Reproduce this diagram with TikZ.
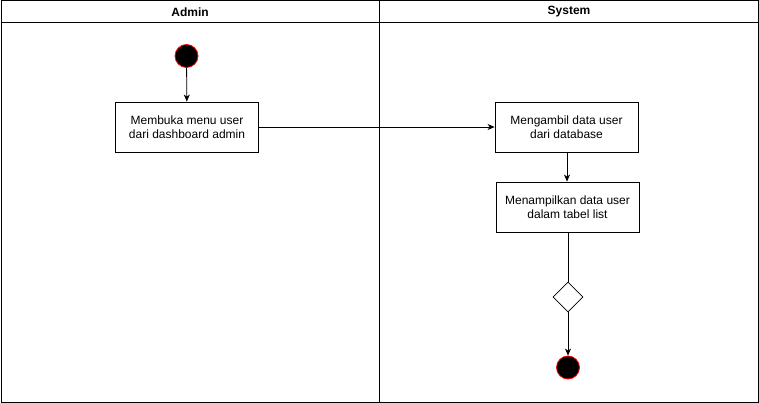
\documentclass[tikz,border=0pt]{standalone}
\usepackage{fontspec}
\setmainfont{Liberation Sans}
\usetikzlibrary{arrows.meta,shapes.geometric}
\begin{document}
\begin{tikzpicture}[x=1pt,y=-1pt,
  actbox/.style={draw,line width=0.8pt,minimum width=143pt,minimum height=50pt,align=center,font=\fontsize{12}{14}\selectfont,inner sep=0pt},
  startdot/.style={circle,fill=black,draw=red,line width=0.8pt,minimum size=23pt,inner sep=0pt},
  decision/.style={diamond,draw,line width=0.6pt,minimum width=30pt,minimum height=30pt,inner sep=0pt,aspect=1},
  flow/.style={line width=0.8pt,-{Stealth[length=7pt,width=6pt,inset=2pt]}},
  lane/.style={draw,line width=1pt},
  head/.style={font=\fontsize{12}{14}\selectfont\bfseries}]
\useasboundingbox (0,0) rectangle (759,403);
% swimlanes
\draw[lane] (1,1) rectangle (758,402);
\draw[lane] (1,23) -- (758,23);
\draw[lane] (379,1) -- (379,402);
\node[head] (hadmin) at (190,12) {Admin};
\node[head] (hsys) at (569,12) {System};
% nodes
\node[startdot] (start) at (186.5,56) {};
\node[actbox] (b1) at (187,127) {Membuka menu user\\dari dashboard admin};
\node[actbox] (b2) at (566.5,127) {Mengambil data user\\dari database};
\node[actbox] (b3) at (567.5,207) {Menampilkan data user\\dalam tabel list};
\node[decision] (d) at (568,297) {};
\node[startdot] (end) at (568,367.5) {};
% edges
\draw[flow] (start) -- (b1);
\draw[flow] (b1) -- (b2);
\draw[flow] (b2.south -| 567,0) -- (b3.north -| 567,0);
\draw[line width=0.8pt] (b3.south -| d) -- (d.north);
\draw[flow] (d) -- (end);
\end{tikzpicture}
\end{document}
